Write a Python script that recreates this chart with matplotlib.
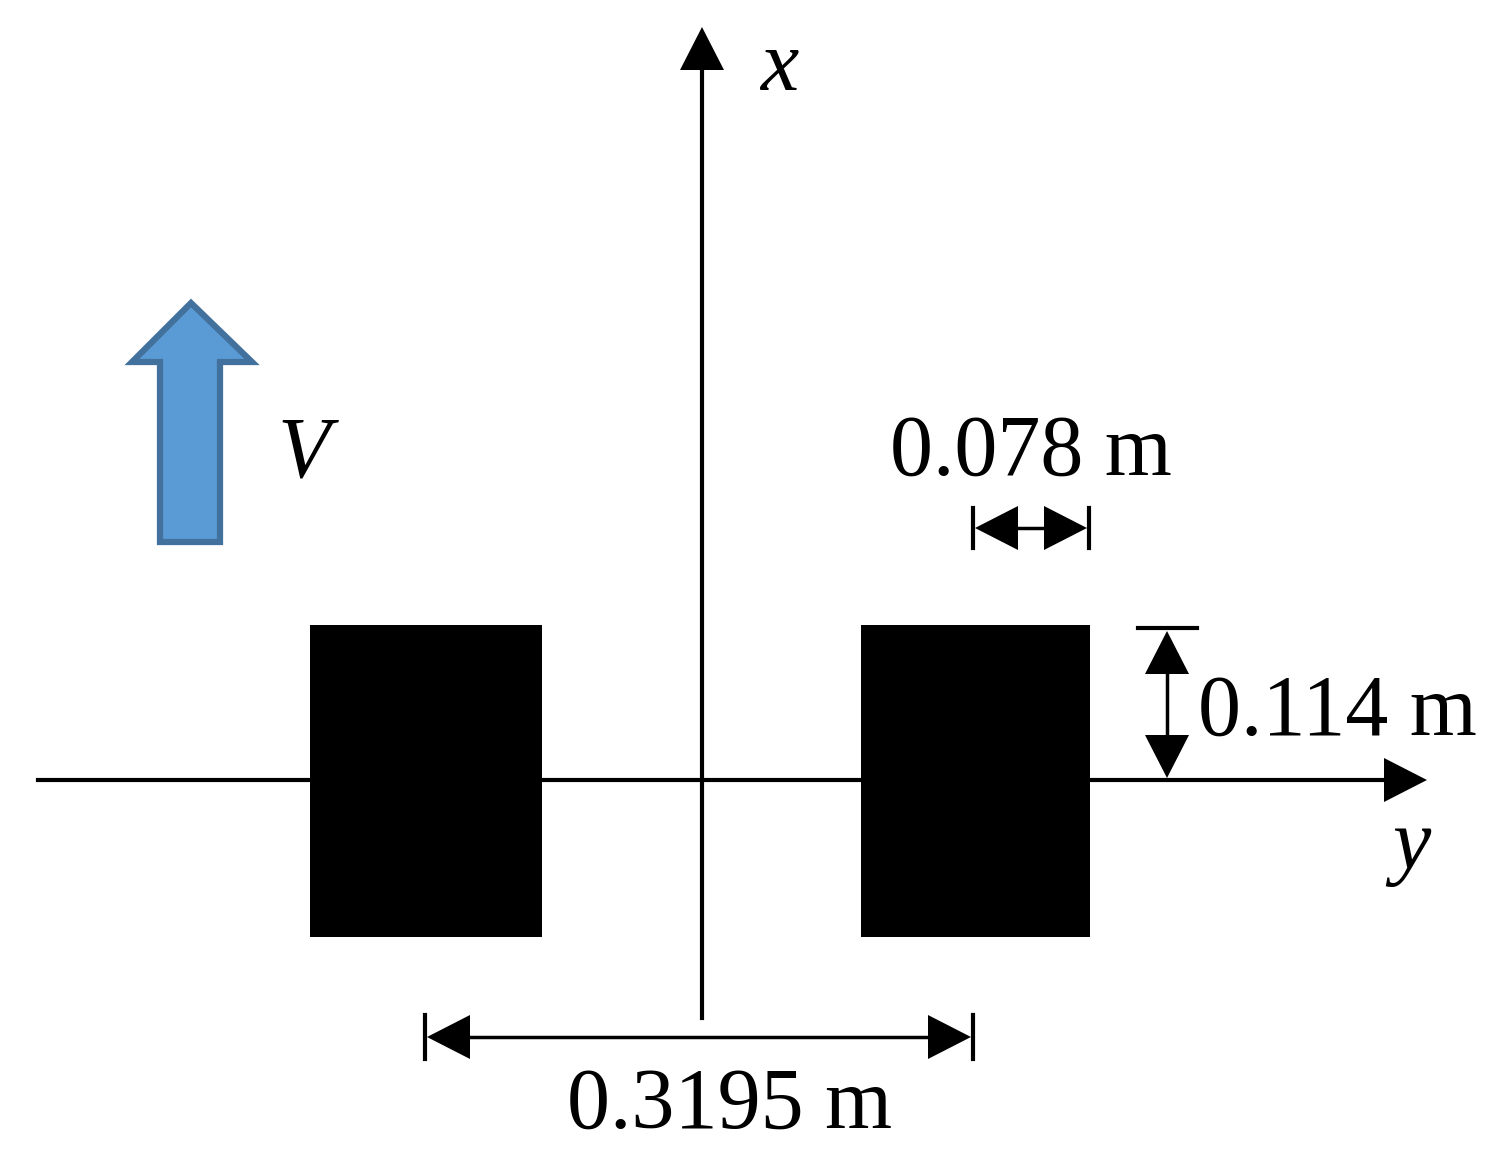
import matplotlib
matplotlib.use('Agg')
import matplotlib.pyplot as plt
from matplotlib.patches import Polygon, Rectangle

# Geometria do esquema (em pixels da figura original)
W, H = 1502, 1153
origem = (702, 780)               # cruzamento dos eixos
eixo_y = (38, 1427)               # extremos do eixo horizontal (y)
eixo_x = (1018, 27)               # extremos do eixo vertical (x)
rodas_esq = [310, 861]            # borda esquerda de cada roda
rodas_larg = [232, 229]           # largura de cada roda
roda_topo, roda_base = 625, 937

# Cotas: (rótulo, início, fim, posição fixa)
cota_larg = ('0.078 m', 973, 1089, 528)
cota_alt = ('0.114 m', 628, 780, 1167)
cota_bitola = ('0.3195 m', 425, 973, 1037)

fonte = 'Liberation Serif'
tam = 62

fig = plt.figure(figsize=(W / 100, H / 100), dpi=100)
ax = fig.add_axes([0, 0, 1, 1])
ax.set_xlim(0, W)
ax.set_ylim(H, 0)
ax.axis('off')


def ponta(ax, tip, direcao, comp=43, meia=22):
    # triângulo preenchido com a ponta em tip
    x, y = tip
    if direcao == 'dir':
        pts = [(x, y), (x - comp, y - meia), (x - comp, y + meia)]
    elif direcao == 'esq':
        pts = [(x, y), (x + comp, y - meia), (x + comp, y + meia)]
    elif direcao == 'cima':
        pts = [(x, y), (x - meia, y + comp), (x + meia, y + comp)]
    else:
        pts = [(x, y), (x - meia, y - comp), (x + meia, y - comp)]
    ax.add_patch(Polygon(pts, closed=True, color='black', lw=0))


# Eixos
ax.plot([eixo_y[0], eixo_y[1] - 40], [origem[1], origem[1]], color='black', lw=3)
ponta(ax, (eixo_y[1], origem[1]), 'dir')
ax.plot([origem[0], origem[0]], [eixo_x[0], eixo_x[1] + 40], color='black', lw=3)
ponta(ax, (origem[0], eixo_x[1]), 'cima')
ax.text(760, 90, 'x', fontsize=tam, family=fonte, style='italic', va='baseline')
ax.text(1392, 868, 'y', fontsize=tam, family=fonte, style='italic', va='baseline')

# Rodas
for x0, lw in zip(rodas_esq, rodas_larg):
    ax.add_patch(Rectangle((x0, roda_topo), lw, roda_base - roda_topo,
                           facecolor='black', edgecolor='none'))

# Seta da velocidade
seta = [(160, 542), (160, 362), (132, 362), (191, 303), (252, 362),
        (220, 362), (220, 542)]
ax.add_patch(Polygon(seta, closed=True, facecolor='#5B9BD5',
                     edgecolor='#41719C', lw=4.5, joinstyle='miter'))
ax.text(278, 477, 'V', fontsize=tam, family=fonte, style='italic', va='baseline')

# Cota horizontal da largura
rot, a, b, yy = cota_larg
ax.plot([a, a], [yy - 20, yy + 20], color='black', lw=3)
ax.plot([b, b], [yy - 20, yy + 20], color='black', lw=3)
ax.plot([a + 40, b - 40], [yy, yy], color='black', lw=2.5)
ponta(ax, (a + 2, yy), 'esq')
ponta(ax, (b - 2, yy), 'dir')
ax.text((a + b) / 2, 475, rot, fontsize=tam, family=fonte, ha='center', va='baseline')

# Cota vertical da altura
rot, a, b, xx = cota_alt
ax.plot([xx - 29, xx + 30], [a, a], color='black', lw=3)
ax.plot([xx, xx], [a + 40, b - 40], color='black', lw=2.5)
ponta(ax, (xx, a + 3), 'cima')
ponta(ax, (xx, b - 2), 'baixo')
ax.text(1198, 735, rot, fontsize=tam, family=fonte, ha='left', va='baseline')

# Cota da bitola
rot, a, b, yy = cota_bitola
ax.plot([a, a], [yy - 22, yy + 22], color='black', lw=3)
ax.plot([b, b], [yy - 22, yy + 22], color='black', lw=3)
ax.plot([a + 40, b - 40], [yy, yy], color='black', lw=2.5)
ponta(ax, (a + 2, yy), 'esq')
ponta(ax, (b - 2, yy), 'dir')
ax.text(730, 1128, rot, fontsize=tam, family=fonte, ha='center', va='baseline')

plt.savefig('out.png', dpi=100)
